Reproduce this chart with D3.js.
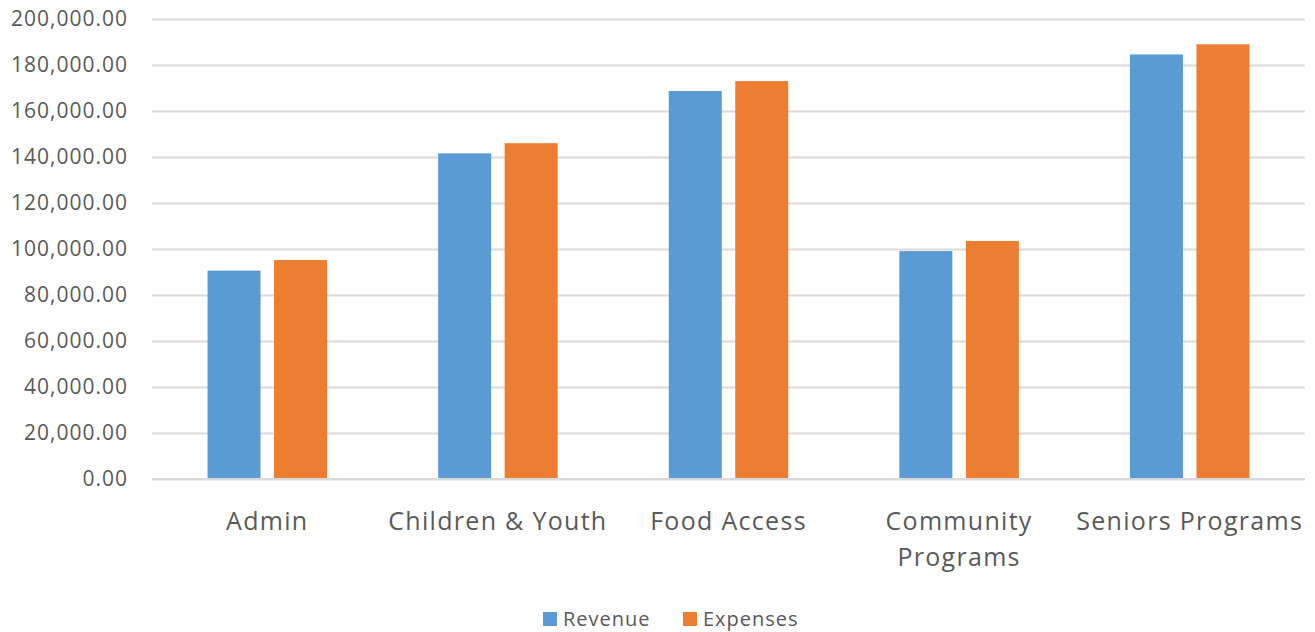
<!DOCTYPE html>
<html>
<head>
<meta charset="utf-8">
<script src="https://cdn.jsdelivr.net/npm/d3@7"></script>
<style>
  body { margin: 0; background: #fff; }
  text { font-family: "Open Sans", sans-serif; fill: #595959; }
</style>
</head>
<body>
<div id="chart"></div>
<script>
'use strict'

// data
const categories = ['Admin', 'Children & Youth', 'Food Access', 'Community Programs', 'Seniors Programs']
const series = ['Revenue', 'Expenses']
const revenue = [90600, 141600, 168700, 99100, 184600]
const expenses = [95200, 146000, 173000, 103500, 189000]
const yTicks = [0, 20000, 40000, 60000, 80000, 100000, 120000, 140000, 160000, 180000, 200000]
const colors = ['#5B9BD5', '#ED7D31']

const svgWidth = 1315
const svgHeight = 632
const margin = { left: 152, right: 10, top: 19, bottom: 153 }
const width = svgWidth - margin.left - margin.right
const height = svgHeight - margin.top - margin.bottom

const svg = d3.select('#chart')
    .append('svg')
    .attr('width', svgWidth)
    .attr('height', svgHeight)

const g = svg.append('g')
    .attr('transform', `translate(${margin.left},${margin.top})`)

// scales
const x0 = d3.scaleBand()
    .domain(categories)
    .range([0, width])
    .padding(0)

const x1 = d3.scaleBand()
    .domain(series)
    .range([0, x0.bandwidth()])
    .paddingInner(0.203)
    .paddingOuter(0.835)

const y = d3.scaleLinear()
    .domain([0, 200000])
    .range([height, 0])

const color = d3.scaleOrdinal().domain(series).range(colors)

// gridlines + y labels
const yAxis = d3.axisLeft(y)
    .tickValues(yTicks)
    .tickSize(-width)
    .tickPadding(24)
    .tickFormat(d3.format(',.2f'))

g.append('g')
    .attr('class', 'y-grid')
    .call(yAxis)
    .call(s => s.select('.domain').remove())
    .call(s => s.selectAll('line').attr('stroke', '#D9D9D9').attr('stroke-width', 2))
    .call(s => s.selectAll('text')
        .style('font-size', '21px')
        .style('letter-spacing', '1px')
        .attr('fill', '#595959'))

// bars
const rows = categories.map((c, i) => ({ category: c, values: [revenue[i], expenses[i]] }))

g.selectAll('.group')
    .data(rows)
    .join('g')
    .attr('class', 'group')
    .attr('transform', d => `translate(${x0(d.category)},0)`)
    .selectAll('rect')
    .data(d => series.map((s, i) => ({ key: s, value: d.values[i] })))
    .join('rect')
    .attr('x', d => x1(d.key))
    .attr('y', d => y(d.value))
    .attr('width', x1.bandwidth())
    .attr('height', d => height - y(d.value))
    .attr('fill', d => color(d.key))

// baseline
g.append('line')
    .attr('x1', 0).attr('x2', width)
    .attr('y1', height).attr('y2', height)
    .attr('stroke', '#D9D9D9').attr('stroke-width', 2)

// category labels (wrap long one like Excel does)
const xAxis = d3.axisBottom(x0).tickSize(0).tickPadding(0)
const xg = g.append('g')
    .attr('transform', `translate(0,${height})`)
    .call(xAxis)
xg.select('.domain').remove()
xg.selectAll('text').each(function (d) {
    const t = d3.select(this)
    t.text(null).attr('y', 0).attr('dy', null)
        .style('font-size', '25px')
        .style('letter-spacing', '1.3px')
    const lines = d === 'Community Programs' ? ['Community', 'Programs'] : [d]
    lines.forEach((l, i) => {
        t.append('tspan').attr('x', 0).attr('y', 51 + i * 36).text(l)
    })
})

// legend
const legend = svg.append('g').attr('transform', 'translate(543,619)')
const items = legend.selectAll('g')
    .data(series)
    .join('g')
    .attr('transform', (d, i) => `translate(${i * 140},0)`)
items.append('rect')
    .attr('x', 0).attr('y', -7)
    .attr('width', 14).attr('height', 14)
    .attr('fill', d => color(d))
items.append('text')
    .attr('x', 20).attr('y', 0)
    .attr('dy', '0.35em')
    .style('font-size', '20px')
    .style('letter-spacing', '1px')
    .text(d => d)
</script>
</body>
</html>
